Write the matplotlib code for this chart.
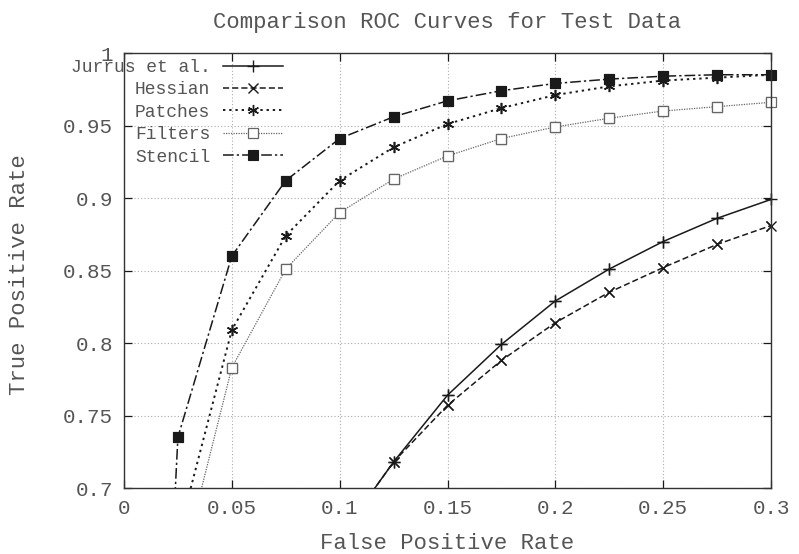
import numpy as np
import matplotlib.pyplot as plt
from matplotlib.ticker import MultipleLocator, FormatStrFormatter

# 偽陽性率 (x) 與真陽性率 (y)，數值由圖上估讀
fpr_a = [0.0, 0.025, 0.05, 0.075, 0.1, 0.125, 0.15, 0.175, 0.2, 0.225, 0.25, 0.275, 0.3]
fpr_b = [0.1, 0.125, 0.15, 0.175, 0.2, 0.225, 0.25, 0.275, 0.3]

jurrus = [0.666, 0.718, 0.764, 0.799, 0.829, 0.851, 0.870, 0.886, 0.899]
hessian = [0.666, 0.718, 0.757, 0.788, 0.814, 0.835, 0.852, 0.868, 0.881]
patches = [0.0, 0.666, 0.809, 0.874, 0.912, 0.935, 0.951, 0.962, 0.971, 0.977, 0.981, 0.983, 0.985]
filters = [0.0, 0.635, 0.783, 0.851, 0.890, 0.913, 0.929, 0.941, 0.949, 0.955, 0.960, 0.963, 0.966]
stencil = [0.0, 0.735, 0.860, 0.912, 0.941, 0.956, 0.967, 0.974, 0.979, 0.982, 0.984, 0.985, 0.985]

labels = ['Jurrus et al.', 'Hessian', 'Patches', 'Filters', 'Stencil']

FONT = 'Liberation Mono'
TXT = '#555555'
INK = '#1a1a1a'

plt.rcParams['font.family'] = [FONT, 'DejaVu Sans Mono']

fig = plt.figure(figsize=(7.99, 5.54), dpi=100)
ax = fig.add_axes([124 / 799, 66 / 554, 647 / 799, 435 / 554])

series = [
    (fpr_b, jurrus, dict(ls='-', marker='+', ms=8, mew=1.0)),
    (fpr_b, hessian, dict(ls=(0, (4, 2)), marker='x', ms=7, mew=1.0)),
    (fpr_a, patches, dict(ls=(0, (1.2, 2)), marker=(6, 2, 0), ms=8, mew=1.0, lw=1.4)),
    (fpr_a, filters, dict(ls=(0, (1, 1)), marker='s', ms=7, mew=0.9, mfc='white', color='#666666', lw=0.9)),
    (fpr_a, stencil, dict(ls=(0, (7, 2, 1.5, 2)), marker='s', ms=6.5, mew=0.8)),
]

handles = []
for (x, y, style), lab in zip(series, labels):
    kw = dict(color=INK, lw=1.1)
    kw.update(style)
    ln, = ax.plot(x, y, label=lab, **kw)
    # 邊界上的標記也要完整顯示
    x = np.array(x)
    y = np.array(y)
    keep = y >= 0.7
    mk = {k: v for k, v in kw.items() if k not in ('ls', 'lw')}
    ax.plot(x[keep], y[keep], ls='none', clip_on=False, **mk)
    handles.append(ln)

ax.set_xlim(0, 0.3)
ax.set_ylim(0.7, 1.0)
ax.xaxis.set_major_locator(MultipleLocator(0.05))
ax.yaxis.set_major_locator(MultipleLocator(0.05))
ax.xaxis.set_major_formatter(FormatStrFormatter('%g'))
ax.yaxis.set_major_formatter(FormatStrFormatter('%g'))
ax.tick_params(direction='in', length=6, width=0.9, color=INK, top=True, right=True,
               labelsize=15, labelcolor=TXT, pad=8)
ax.grid(True, ls=(0, (1, 2)), color='#aaaaaa', lw=0.8)
for s in ax.spines.values():
    s.set_color('#333333')
    s.set_linewidth(1.0)

ax.set_title('Comparison ROC Curves for Test Data', fontsize=16, color=TXT, pad=18)
ax.set_xlabel('False Positive Rate', fontsize=16, color=TXT, labelpad=11)
ax.set_ylabel('True Positive Rate', fontsize=16, color=TXT)
ax.yaxis.set_label_coords(-0.146, 0.49)

leg = ax.legend(handles=handles, loc='upper right', bbox_to_anchor=(0.259, 1.007),
                frameon=False, markerfirst=False, numpoints=1, handlelength=3.3,
                handletextpad=0.7, labelspacing=0.3, fontsize=13, borderaxespad=0.1)
for t in leg.get_texts():
    t.set_color(TXT)

fig.savefig('out.png', dpi=100)
